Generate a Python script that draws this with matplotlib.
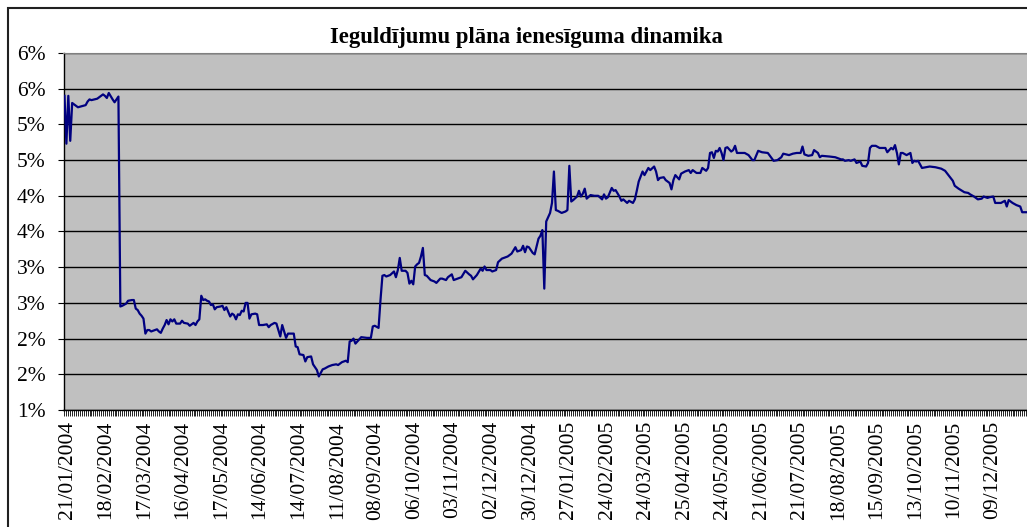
import matplotlib
matplotlib.use("Agg")
import matplotlib.pyplot as plt
from matplotlib.patches import Rectangle
from matplotlib.transforms import ScaledTranslation
import pandas as pd

plt.rcParams['font.family'] = ['Liberation Serif', 'DejaVu Serif']

# ---------------- data ----------------
title = "Ieguldījumu plāna ienesīguma dinamika"

# Latvian bank holidays skipped by the business-day category axis
holidays = ['2004-04-09', '2004-04-12', '2004-05-04', '2004-06-23', '2004-06-24',
            '2004-11-18', '2005-03-25', '2005-03-28', '2005-05-04', '2005-06-23',
            '2005-06-24', '2005-11-18']
start_date = '2004-01-21'
n_days = 500
label_every = 20

y_ticks = [1.0, 1.5, 2.0, 2.5, 3.0, 3.5, 4.0, 4.5, 5.0, 5.5, 6.0]
y_tick_labels = ['1%', '2%', '2%', '3%', '3%', '4%', '4%', '5%', '5%', '6%', '6%']

# observation index (business day number) and yield in %
obs_idx = [0, 1, 2, 3, 4, 7, 11, 12, 13, 14, 17, 20, 21, 22, 23, 25, 26, 28,
           29, 30, 32, 33, 35, 36, 37, 38, 39, 40, 41, 42, 43, 44, 45, 46, 48, 49,
           50, 51, 52, 53, 54, 55, 56, 57, 58, 60, 61, 62, 64, 65, 67, 68, 69, 70,
           71, 72, 73, 74, 75, 76, 77, 78, 79, 81, 82, 83, 84, 86, 87, 88, 89, 90,
           91, 92, 93, 94, 95, 96, 97, 99, 100, 101, 103, 105, 106, 107, 109, 110,
           112, 113, 115, 116, 119, 120, 121, 122, 124, 125, 126, 128, 129, 131,
           132, 134, 135, 137, 139, 141, 142, 144, 146, 147, 148, 149, 150, 151,
           153, 154, 157, 159, 160, 161, 163, 164, 165, 166, 167, 169, 171, 172,
           173, 174, 175, 177, 178, 179, 180, 181, 182, 183, 184, 185, 186, 187,
           188, 190, 192, 193, 195, 196, 198, 199, 201, 202, 204, 206, 208, 210,
           211, 212, 214, 216, 217, 218, 219, 221, 222, 224, 225, 227, 230, 232,
           234, 235, 237, 238, 239, 240, 241, 243, 244, 245, 246, 247, 248, 249,
           250, 252, 253, 254, 255, 256, 258, 260, 261, 262, 263, 264, 266, 267,
           268, 269, 270, 271, 273, 275, 277, 279, 280, 281, 282, 284, 285, 286,
           288, 289, 290, 292, 293, 295, 296, 297, 298, 300, 301, 303, 304, 306,
           307, 308, 309, 311, 312, 314, 315, 316, 317, 319, 320, 322, 324, 325,
           326, 328, 330, 331, 333, 334, 335, 336, 337, 338, 339, 340, 341, 342,
           343, 344, 346, 347, 348, 349, 351, 353, 355, 357, 358, 360, 362, 365,
           368, 370, 372, 373, 376, 378, 380, 382, 383, 384, 386, 388, 389, 391,
           392, 393, 397, 400, 403, 404, 405, 407, 408, 410, 411, 413, 414, 416,
           417, 418, 419, 421, 423, 425, 426, 427, 429, 430, 431, 432, 433, 434,
           435, 437, 439, 440, 441, 442, 443, 445, 447, 449, 452, 455, 457, 459,
           461, 462, 464, 467, 469, 470, 472, 474, 476, 477, 479, 480, 482, 483,
           486, 488, 489, 490, 492, 494, 496, 497, 499]

obs_val = [5.40, 4.73, 5.40, 4.77, 5.30, 5.24, 5.27, 5.32, 5.35, 5.34, 5.36, 5.42,
           5.40, 5.37, 5.44, 5.35, 5.31, 5.39,
           2.45, 2.46, 2.49, 2.53, 2.54, 2.54, 2.42, 2.40, 2.35, 2.32, 2.28, 2.07,
           2.12, 2.12, 2.10, 2.11, 2.13, 2.10,
           2.08, 2.14, 2.19, 2.26, 2.20, 2.27, 2.24, 2.27, 2.21, 2.21, 2.25, 2.22,
           2.21, 2.18, 2.22, 2.19, 2.24, 2.27,
           2.60, 2.54, 2.55, 2.53, 2.52, 2.47, 2.48, 2.41, 2.44, 2.45, 2.46, 2.40,
           2.44, 2.31, 2.35, 2.33, 2.27, 2.34,
           2.33, 2.39, 2.38, 2.50, 2.50, 2.28, 2.34, 2.35, 2.34, 2.19, 2.19, 2.20,
           2.16, 2.19, 2.22, 2.21,
           2.03, 2.19, 2.01, 2.07, 2.07, 1.89, 1.88, 1.78, 1.77, 1.68, 1.74, 1.75,
           1.64, 1.56,
           1.47, 1.57, 1.58, 1.61, 1.63, 1.64, 1.63, 1.67, 1.69, 1.67, 1.96, 1.97,
           2.00, 1.93,
           1.99, 2.02, 2.01, 2.01, 2.17, 2.18, 2.15, 2.54, 2.88, 2.89, 2.87, 2.89,
           2.94, 2.86,
           2.96, 3.13, 2.95, 2.95, 2.92, 2.77, 2.81, 2.76, 3.01, 3.04, 3.06, 3.15,
           3.27, 2.89,
           2.88, 2.82, 2.80, 2.78, 2.84, 2.84, 2.82, 2.86, 2.90, 2.82, 2.84, 2.86,
           2.95, 2.90,
           2.88, 2.83, 2.89, 2.98, 2.95, 3.01, 2.96, 2.96, 2.94, 2.96, 3.07, 3.12,
           3.15, 3.19,
           3.28, 3.22, 3.24, 3.30, 3.21, 3.29, 3.28, 3.20, 3.18, 3.29, 3.40, 3.44,
           3.52, 2.70,
           3.64, 3.76, 3.90, 4.34, 3.80, 3.79, 3.76, 3.78, 3.80, 4.42, 3.92, 3.94,
           3.99, 4.07,
           3.99, 4.03, 4.10, 3.96, 4.01, 4.00, 4.00, 3.95, 4.02, 3.96, 3.98, 4.11,
           4.07, 4.08,
           3.99, 3.93, 3.95, 3.90, 3.93, 3.90, 3.95, 4.07, 4.20, 4.34, 4.29, 4.39,
           4.36, 4.41,
           4.34, 4.22, 4.25, 4.26, 4.22, 4.18, 4.09, 4.22, 4.29, 4.23, 4.31, 4.34,
           4.36, 4.32,
           4.36, 4.32, 4.32, 4.39, 4.35, 4.39, 4.60, 4.61, 4.53, 4.63, 4.62, 4.67,
           4.60, 4.50,
           4.67, 4.68, 4.62, 4.64, 4.70, 4.60, 4.60, 4.60, 4.57, 4.50, 4.50, 4.63,
           4.61, 4.60,
           4.49, 4.50, 4.54, 4.59, 4.57, 4.59, 4.60, 4.60, 4.69, 4.58, 4.56, 4.57,
           4.64, 4.60,
           4.54, 4.56, 4.55, 4.54, 4.51, 4.51, 4.49, 4.50, 4.49, 4.51, 4.46, 4.48,
           4.42, 4.41,
           4.46, 4.67, 4.70, 4.70, 4.67, 4.67, 4.67, 4.61, 4.67, 4.65, 4.71, 4.60,
           4.44, 4.60,
           4.60, 4.57, 4.60, 4.46, 4.49, 4.48, 4.49, 4.39, 4.40, 4.41, 4.40, 4.38,
           4.35, 4.28,
           4.21, 4.14, 4.10, 4.05, 4.04, 4.02, 3.99, 3.95, 3.96, 3.99, 3.97, 3.98,
           3.99, 3.90,
           3.90, 3.93, 3.85, 3.94, 3.90, 3.87, 3.85, 3.77, 3.77]

# ---------------- categories ----------------
dates = pd.bdate_range(start_date, periods=n_days, freq='C', holidays=holidays)
date_labels = [d.strftime('%d/%m/%Y') for d in dates]

# ---------------- figure ----------------
W, H = 1027, 527
fig = plt.figure(figsize=(W / 100, H / 100), dpi=100)
fig.patch.set_facecolor('white')

# chart-area frame (cropped on right/bottom)
fig.patches.append(Rectangle((8 / W, -0.2), 1.2, 1 - 8 / H + 0.2,
                             transform=fig.transFigure, fill=False,
                             edgecolor='#202020', linewidth=1.5, zorder=0))

left, right, top, bottom = 63.5, 1027, 53, 410
ax = fig.add_axes([left / W, 1 - bottom / H, (right - left) / W, (bottom - top) / H])
ax.set_facecolor('#C0C0C0')

ax.plot(obs_idx, obs_val, color='#000080', linewidth=1.6, zorder=3,
        solid_joinstyle='round')

ax.set_xlim(-0.5, n_days - 0.5)
ax.set_ylim(y_ticks[0], y_ticks[-1])

ax.set_yticks(y_ticks)
ax.set_yticklabels(y_tick_labels)
ax.yaxis.grid(True, color='black', linewidth=1.0, zorder=1)
ax.set_axisbelow(True)

major = list(range(0, n_days, label_every))
ax.set_xticks(major)
ax.set_xticklabels([date_labels[i] for i in major], rotation=90, va='top')
ax.set_xticks(range(n_days), minor=True)

ax.tick_params(axis='y', direction='out', length=4.3, width=0.8, pad=8.5,
               labelsize=15.5, colors='black')
ax.tick_params(axis='x', which='both', direction='out', length=4, width=0.6,
               pad=4, labelsize=15.5)

shift = ScaledTranslation(3 / 100, 0, fig.dpi_scale_trans)
for lab in ax.get_xticklabels():
    lab.set_transform(lab.get_transform() + shift)

ax.spines['right'].set_visible(False)
ax.spines['top'].set_color('#808080')
ax.spines['left'].set_color('black')
ax.spines['bottom'].set_color('black')
ax.spines['left'].set_linewidth(1.0)
ax.spines['bottom'].set_linewidth(1.0)

fig.text(526 / W, 1 - 43 / H, title, ha='center', va='baseline',
         fontsize=16.4, fontweight='bold')

fig.savefig('out.png', dpi=100)
